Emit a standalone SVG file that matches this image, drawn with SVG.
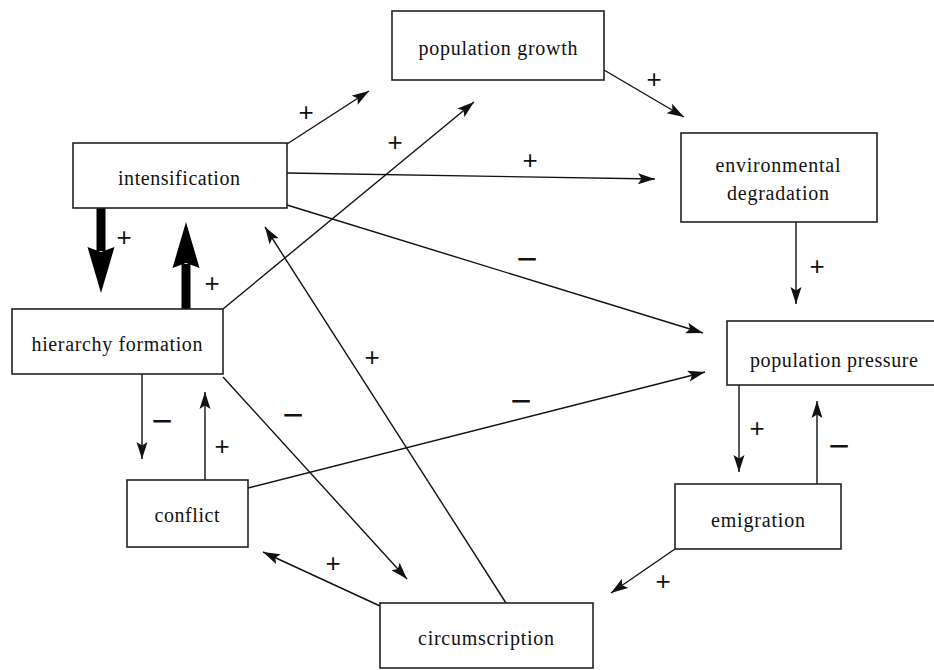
<svg xmlns="http://www.w3.org/2000/svg" width="934" height="670" viewBox="0 0 934 670">
<style>
.box{fill:#fff;stroke:#222;stroke-width:1.6}
.lbl{font-family:"Liberation Serif","Times New Roman",serif;font-size:20px;fill:#111;text-anchor:middle}
.c{fill:none;stroke:#111;stroke-width:1.4}
.thick{fill:none;stroke:#000;stroke-width:9}
.sg{font-family:"Liberation Sans",Arial,sans-serif;fill:#111;text-anchor:middle;dominant-baseline:central}
.p{font-size:26px}
.m{font-size:36px}
</style>
<defs>
<marker id="ah" markerUnits="userSpaceOnUse" markerWidth="18" markerHeight="12" viewBox="0 0 18 12" refX="17" refY="6" orient="auto">
<path d="M0,0.5 L17,6 L0,11.5 L3.5,6 z" fill="#111"/>
</marker>
<marker id="big" markerUnits="userSpaceOnUse" markerWidth="46" markerHeight="28" viewBox="0 0 46 28" refX="4" refY="14" orient="auto">
<path d="M0,0.5 L46,14 L0,27.5 L5,14 z" fill="#000"/>
</marker>
</defs>
<rect width="934" height="670" fill="#fff"/>
<g id="connectors">
<line class="c" x1="287" y1="144" x2="369" y2="91" marker-end="url(#ah)"/>
<line class="c" x1="223" y1="309" x2="474" y2="102" marker-end="url(#ah)"/>
<line class="c" x1="287" y1="173" x2="655" y2="179" marker-end="url(#ah)"/>
<line class="c" x1="287" y1="205" x2="703" y2="333" marker-end="url(#ah)"/>
<line class="c" x1="604" y1="70" x2="684" y2="117" marker-end="url(#ah)"/>
<line class="c" x1="796" y1="222" x2="796" y2="304" marker-end="url(#ah)"/>
<line class="thick" x1="101" y1="208" x2="101" y2="251" marker-end="url(#big)"/>
<line class="thick" x1="186" y1="309" x2="186" y2="264" marker-end="url(#big)"/>
<line class="c" x1="142" y1="374" x2="142" y2="459" marker-end="url(#ah)"/>
<line class="c" x1="205" y1="480" x2="205" y2="392" marker-end="url(#ah)"/>
<line class="c" x1="223" y1="377" x2="407" y2="579" marker-end="url(#ah)"/>
<line class="c" x1="506" y1="603" x2="265" y2="227" marker-end="url(#ah)"/>
<line class="c" x1="248" y1="488" x2="705" y2="372" marker-end="url(#ah)"/>
<line class="c" x1="380" y1="606" x2="263" y2="552" marker-end="url(#ah)"/>
<line class="c" x1="739" y1="385" x2="739" y2="472" marker-end="url(#ah)"/>
<line class="c" x1="817" y1="484" x2="817" y2="401" marker-end="url(#ah)"/>
<line class="c" x1="675" y1="549" x2="611" y2="593" marker-end="url(#ah)"/>
</g>
<g id="signs">
<text class="sg p" x="306" y="112">+</text>
<text class="sg p" x="395" y="142">+</text>
<text class="sg p" x="530" y="160">+</text>
<text class="sg m" x="527" y="258">−</text>
<text class="sg p" x="654" y="79">+</text>
<text class="sg p" x="817" y="266">+</text>
<text class="sg p" x="124" y="237">+</text>
<text class="sg p" x="212" y="283">+</text>
<text class="sg m" x="162" y="420">−</text>
<text class="sg p" x="222" y="446">+</text>
<text class="sg m" x="293" y="414">−</text>
<text class="sg p" x="372" y="357">+</text>
<text class="sg m" x="521" y="400">−</text>
<text class="sg p" x="333" y="563">+</text>
<text class="sg p" x="757" y="428">+</text>
<text class="sg m" x="839" y="445">−</text>
<text class="sg p" x="663" y="581">+</text>
</g>
<g id="population-growth">
<rect class="box" x="392" y="11" width="212" height="69"/>
<text class="lbl" x="498" y="55" textLength="159">population growth</text>
</g>
<g id="intensification">
<rect class="box" x="73" y="143" width="214" height="65"/>
<text class="lbl" x="179" y="185" textLength="122">intensification</text>
</g>
<g id="environmental-degradation">
<rect class="box" x="681" y="133" width="196" height="89"/>
<text class="lbl" x="778" y="172" textLength="125">environmental</text>
<text class="lbl" x="778" y="200" textLength="102">degradation</text>
</g>
<g id="population-pressure">
<rect class="box" x="727" y="321" width="212" height="64"/>
<text class="lbl" x="834" y="367" textLength="168">population pressure</text>
</g>
<g id="hierarchy-formation">
<rect class="box" x="12" y="309" width="211" height="65"/>
<text class="lbl" x="117" y="351" textLength="171">hierarchy formation</text>
</g>
<g id="conflict">
<rect class="box" x="127" y="480" width="121" height="67"/>
<text class="lbl" x="187" y="522" textLength="65">conflict</text>
</g>
<g id="emigration">
<rect class="box" x="675" y="484" width="166" height="65"/>
<text class="lbl" x="758" y="527" textLength="94">emigration</text>
</g>
<g id="circumscription">
<rect class="box" x="380" y="603" width="213" height="65"/>
<text class="lbl" x="486" y="645" textLength="136">circumscription</text>
</g>
</svg>
